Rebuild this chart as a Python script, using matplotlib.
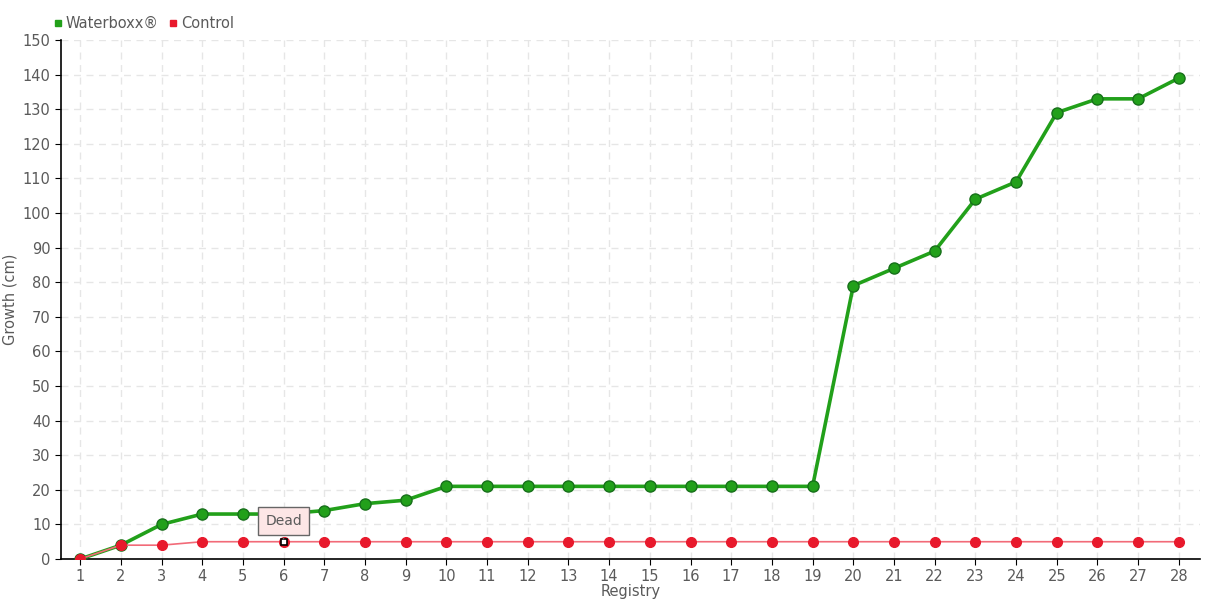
import matplotlib.pyplot as plt
from matplotlib.lines import Line2D

registry = list(range(1, 29))
waterboxx = [0, 4, 10, 13, 13, 13, 14, 16, 17, 21, 21, 21, 21, 21, 21, 21, 21, 21, 21,
             79, 84, 89, 104, 109, 129, 133, 133, 139]
control = [0, 4, 4, 5, 5, 5, 5, 5, 5, 5, 5, 5, 5, 5, 5, 5, 5, 5, 5,
           5, 5, 5, 5, 5, 5, 5, 5, 5]
dead_idx = 5

txt = "#5a5a5a"
plt.rcParams['font.family'] = ['DejaVu Sans']

fig = plt.figure(figsize=(12.2, 6), dpi=100)
ax = fig.add_axes([0.05, 0.0683, 0.9336, 0.865])

ax.plot(registry, waterboxx, color="#22a01a", lw=2.6, marker="o", ms=8,
        mfc="#22a01a", mec="#17701a", mew=1, zorder=3)
ax.plot(registry, control, color="#f26a78", lw=1.2, marker="o", ms=7,
        mfc="#e8192c", mec="#e8192c", zorder=4)
ax.plot(registry[dead_idx], control[dead_idx], marker="s", ms=5, mfc="white",
        mec="black", mew=1.2, zorder=6)

ax.annotate("Dead", xy=(registry[dead_idx], control[dead_idx]), xytext=(0, 10),
            textcoords="offset points", ha="center", va="bottom", fontsize=10,
            color=txt, zorder=7,
            bbox=dict(boxstyle="square,pad=0.5", fc="#fde6e6", ec="#666666", lw=1),
            arrowprops=dict(arrowstyle="-", color="#666666", lw=1))

ax.set_xlim(0.53, 28.52)
ax.set_ylim(0, 150)
ax.set_xticks(registry)
ax.set_yticks(range(0, 151, 10))
ax.tick_params(labelsize=10.5, length=4, labelcolor=txt, color="black")
ax.grid(True, color="#e6e6e6", ls=(0, (5, 4)), lw=1)
for s in ["top", "right"]:
    ax.spines[s].set_visible(False)
ax.spines["left"].set_linewidth(1.2)
ax.spines["bottom"].set_linewidth(1.2)

ax.set_xlabel("Registry", color=txt, fontsize=10.5, labelpad=0)
ax.set_ylabel("Growth (cm)", color=txt, fontsize=10.5, labelpad=4)

handles = [Line2D([], [], ls="", marker="s", ms=5, color="#22a01a"),
           Line2D([], [], ls="", marker="s", ms=5, color="#e8192c")]
leg = ax.legend(handles, ["Waterboxx®", "Control"], loc="lower left",
                bbox_to_anchor=(-0.015, 1.0), ncol=2, frameon=False, fontsize=10.5,
                handletextpad=0.1, columnspacing=0.6, handlelength=0.8, borderaxespad=0.2)
for t in leg.get_texts():
    t.set_color(txt)

fig.savefig("out.png", dpi=100)
